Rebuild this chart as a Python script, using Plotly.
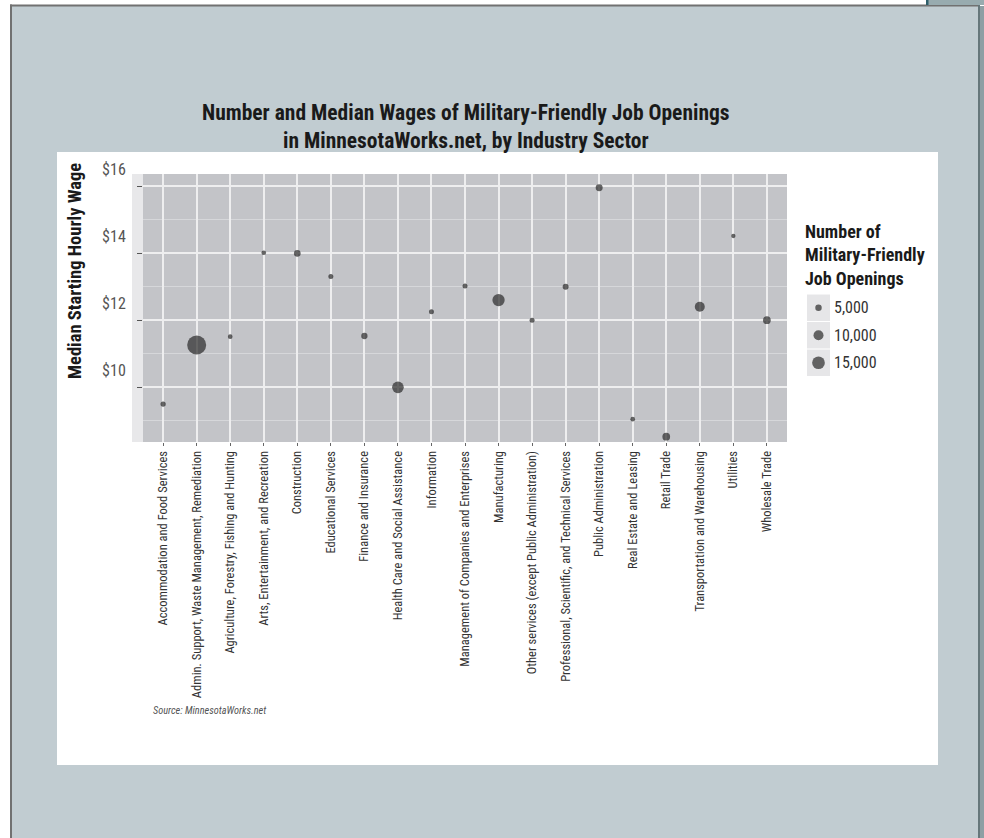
import plotly.graph_objects as go

# ---------------- data ----------------
sectors = [
    "Accommodation and Food Services",
    "Admin. Support, Waste Management, Remediation",
    "Agriculture, Forestry, Fishing and Hunting",
    "Arts, Entertainment, and Recreation",
    "Construction",
    "Educational Services",
    "Finance and Insurance",
    "Health Care and Social Assistance",
    "Information",
    "Management of Companies and Enterprises",
    "Manufacturing",
    "Other services (except Public Administration)",
    "Professional, Scientific, and Technical Services",
    "Public Administration",
    "Real Estate and Leasing",
    "Retail Trade",
    "Transportation and Warehousing",
    "Utilities",
    "Wholesale Trade",
]
median_wage = [9.50, 11.26, 11.51, 14.01, 13.99, 13.30, 11.53, 10.00, 12.25, 13.02,
               12.60, 12.00, 13.00, 15.95, 9.05, 8.53, 12.40, 14.51, 12.00]
openings = [3700, 30600, 3100, 3100, 5250, 3400, 4800, 13000, 3400, 3400,
            14200, 3400, 4400, 5600, 3100, 6600, 10000, 2750, 6600]
legend_values = [5000, 10000, 15000]
legend_labels = ["5,000", "10,000", "15,000"]
y_tickvals = [10, 12, 14, 16]
y_ticktext = ["$10", "$12", "$14", "$16"]
title_lines = ["Number and Median Wages of Military-Friendly Job Openings",
               "in MinnesotaWorks.net, by Industry Sector"]

# ---------------- style / layout ----------------
W_PX, H_PX = 984, 838
NARROW = ("Roboto Condensed, Noto Sans ExtraCondensed, Noto Sans Condensed, "
          "Liberation Sans Narrow, DejaVu Sans Condensed, sans-serif")
DOT = "#2a2a2a"


def size_px(v):
    return 0.12 * v ** 0.5 - 2


def fx(px):
    return px / W_PX


def fy(py):
    return 1 - py / H_PX


# plot panel in pixels
P_L, P_R, P_T, P_B = 143, 787, 174, 442
# legend keys in pixels
K_L, K_R, K_T, K_STEP = 807, 830, 294, 27.5

fig = go.Figure()
fig.add_trace(go.Scatter(
    x=sectors, y=median_wage, mode="markers",
    marker=dict(size=[size_px(v) for v in openings], color=DOT, line=dict(width=0)),
    showlegend=False, hoverinfo="x+y", xaxis="x", yaxis="y",
))
# size legend keys (manual legend, drawn on its own small axes)
fig.add_trace(go.Scatter(
    x=[0.5] * len(legend_values), y=list(range(len(legend_values))), mode="markers",
    marker=dict(size=[size_px(v) for v in legend_values], color=DOT, line=dict(width=0)),
    showlegend=False, hoverinfo="skip", xaxis="x2", yaxis="y2",
))


def rect(x0, y0, x1, y1, color):
    return dict(type="rect", xref="paper", yref="paper", layer="below",
                x0=fx(x0), x1=fx(x1), y0=fy(y1), y1=fy(y0),
                fillcolor=color, line=dict(width=0))


shapes = [
    rect(12, 6, 978, 838, "#c1ccd1"),
    rect(10, 4.5, 12, 838, "#717171"),
    rect(10, 4.5, 978, 6.5, "#717171"),
    rect(978, 4.5, 980, 838, "#66777b"),
    rect(980, 6, 984, 838, "#8e9fa4"),
    rect(926, 0, 984, 5, "#98abaf"),
    rect(926, 0, 928.5, 5, "#2f5f6b"),
    rect(57, 152, 938, 765, "#ffffff"),
    rect(132, P_T, P_L, P_B, "#e8e8ea"),
    rect(P_L, P_T, P_R, P_B, "#c3c4c8"),
]
n_leg = len(legend_values)
for i in range(n_leg):
    y0 = K_T + K_STEP * i
    shapes.append(rect(K_L, y0 + 0.5, K_R, y0 + K_STEP - 0.5, "#e6e6e8"))

annotations = [
    dict(text="<b>" + "<br>".join(title_lines) + "</b>", xref="paper", yref="paper",
         x=fx(466), y=fy(127), xanchor="center", yanchor="middle", showarrow=False,
         font=dict(family=NARROW, size=21.5, color="#1a1a1a")),
    dict(text="<b>Median Starting Hourly Wage</b>", textangle=-90,
         xref="paper", yref="paper", x=fx(75), y=fy(271), xanchor="center", yanchor="middle",
         showarrow=False, font=dict(family=NARROW, size=18.5, color="#1a1a1a")),
    dict(text="<i>Source: MinnesotaWorks.net</i>",
         xref="paper", yref="paper", x=fx(151), y=fy(710), xanchor="left", yanchor="middle",
         showarrow=False, font=dict(family=NARROW, size=10.3, color="#555555")),
    dict(text="<b>Number of<br>Military-Friendly<br>Job Openings</b>", align="left",
         xref="paper", yref="paper", x=fx(803), y=fy(219), xanchor="left", yanchor="top",
         showarrow=False, font=dict(family=NARROW, size=18, color="#1a1a1a")),
]
for i, lab in enumerate(legend_labels):
    annotations.append(dict(
        text=lab, xref="paper", y=i, yref="y2", x=fx(832), xanchor="left", yanchor="middle",
        showarrow=False, font=dict(family=NARROW, size=16, color="#333333")))

fig.update_layout(
    width=W_PX, height=H_PX, autosize=False,
    margin=dict(l=0, r=0, t=0, b=0, pad=0, autoexpand=False),
    paper_bgcolor="white", plot_bgcolor="rgba(0,0,0,0)",
    shapes=shapes, annotations=annotations, showlegend=False,
    xaxis=dict(
        domain=[fx(P_L), fx(P_R)], anchor="y", automargin=False,
        type="category", range=[-0.6, 18.6], tickangle=-90,
        showgrid=True, gridcolor="#eeeeef", gridwidth=2,
        ticks="outside", ticklen=3, tickcolor="#666666",
        tickfont=dict(family=NARROW, size=12.5, color="#333333"),
        zeroline=False, showline=False,
    ),
    yaxis=dict(
        domain=[fy(P_B), fy(P_T)], anchor="x", automargin=False,
        range=[8.37, 16.358], tickvals=y_tickvals, ticktext=y_ticktext,
        showgrid=True, gridcolor="#eeeeef", gridwidth=2,
        ticks="outside", ticklen=5, tickcolor="#555555",
        ticklabelshift=-17, ticklabelstandoff=8,
        tickfont=dict(family=NARROW, size=16, color="#555555"),
        minor=dict(tickvals=[9, 11, 13, 15], showgrid=True, gridcolor="#d6d7da", gridwidth=1),
        zeroline=False, showline=False,
    ),
    xaxis2=dict(
        domain=[fx(K_L), fx(K_R)], anchor="y2", range=[0, 1],
        visible=False, fixedrange=True, automargin=False,
    ),
    yaxis2=dict(
        domain=[fy(K_T + K_STEP * n_leg), fy(K_T)], anchor="x2",
        range=[n_leg - 0.5, -0.5], visible=False, fixedrange=True, automargin=False,
    ),
    hovermode="closest",
)

fig.write_html("out.html")
